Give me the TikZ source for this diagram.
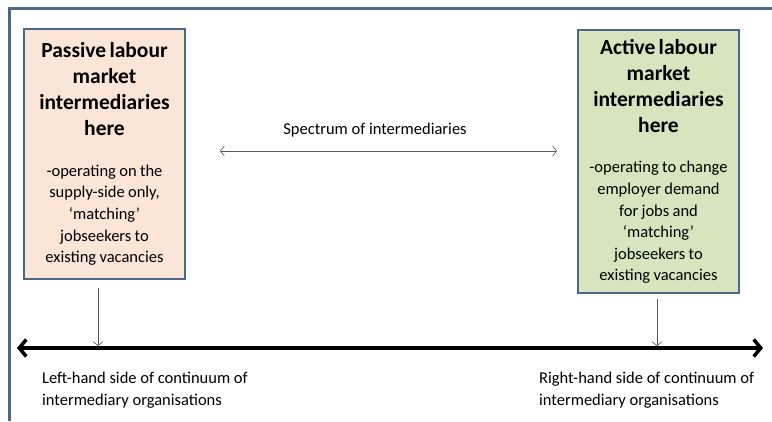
\documentclass[tikz,border=0pt]{standalone}
\usepackage{fontspec}
\setmainfont{Carlito}
\usetikzlibrary{arrows.meta}
\definecolor{framecol}{HTML}{4A6889}
\definecolor{peach}{HTML}{FBE5D6}
\definecolor{sage}{HTML}{D7E4BD}
\definecolor{linegray}{HTML}{595959}
\newcommand{\boxtitle}{\fontsize{21.5}{26}\selectfont\bfseries}
\newcommand{\boxbody}{\fontsize{16.5}{21.6}\selectfont}

\begin{document}
\begin{tikzpicture}[x=1pt, y=-1pt,
    box/.style={draw=framecol, line width=1.6pt, minimum width=161pt, text width=159pt,
                inner sep=0pt, align=center},
    pointer/.style={draw=linegray, line width=0.6pt},
    barb/.tip={Straight Barb[length=4pt, width=10pt]},
    bigbarb/.tip={Straight Barb[length=7pt, width=17pt]}]
  \useasboundingbox (0,0) rectangle (772,421);
  % outer frame
  \draw[framecol, line width=2.5pt] (9.5,421) -- (9.5,8.5) -- (772,8.5);

  \node[box, fill=peach, minimum height=250pt] (passive) at (104.5,154)
      {{\boxtitle Passive labour\\market\\intermediaries\\here\par}\vspace{19pt}
       {\boxbody -operating on the\\supply-side only,\\‘matching’\\jobseekers to\\existing vacancies\par}\vspace{10pt}};
  \node[box, fill=sage, minimum height=263pt] (active) at (658.5,161.5)
      {{\boxtitle Active labour\\market\\intermediaries\\here\par}\vspace{19pt}
       {\boxbody -operating to change\\employer demand\\for jobs and\\‘matching’\\jobseekers to\\existing vacancies\par}\vspace{10pt}};

  \node (spectrum) at (375,130) {\boxbody Spectrum of intermediaries};
  \coordinate (specL) at (220,151);
  \coordinate (specR) at (557,151);
  \draw[pointer, barb-barb] (specL) -- (specR);

  % continuum
  \coordinate (contL) at (17,348);
  \coordinate (contR) at (763,348);
  \draw[line width=3.5pt, bigbarb-bigbarb] (contL) -- (contR);
  \coordinate (dropL) at (98,346);
  \coordinate (dropR) at (657,346);
  \draw[pointer, -barb] ([xshift=-6.5pt, yshift=-8pt]passive.south) -- (dropL);
  \draw[pointer, -barb] ([xshift=-1.5pt, yshift=-5pt]active.south) -- (dropR);

  \node[anchor=west, align=left, inner sep=0pt, font=\boxbody] (leftend) at (42,390)
      {Left-hand side of continuum of\\intermediary organisations};
  \node[anchor=west, align=left, inner sep=0pt, font=\boxbody] (rightend) at (539,390)
      {Right-hand side of continuum of\\intermediary organisations};
\end{tikzpicture}
\end{document}
